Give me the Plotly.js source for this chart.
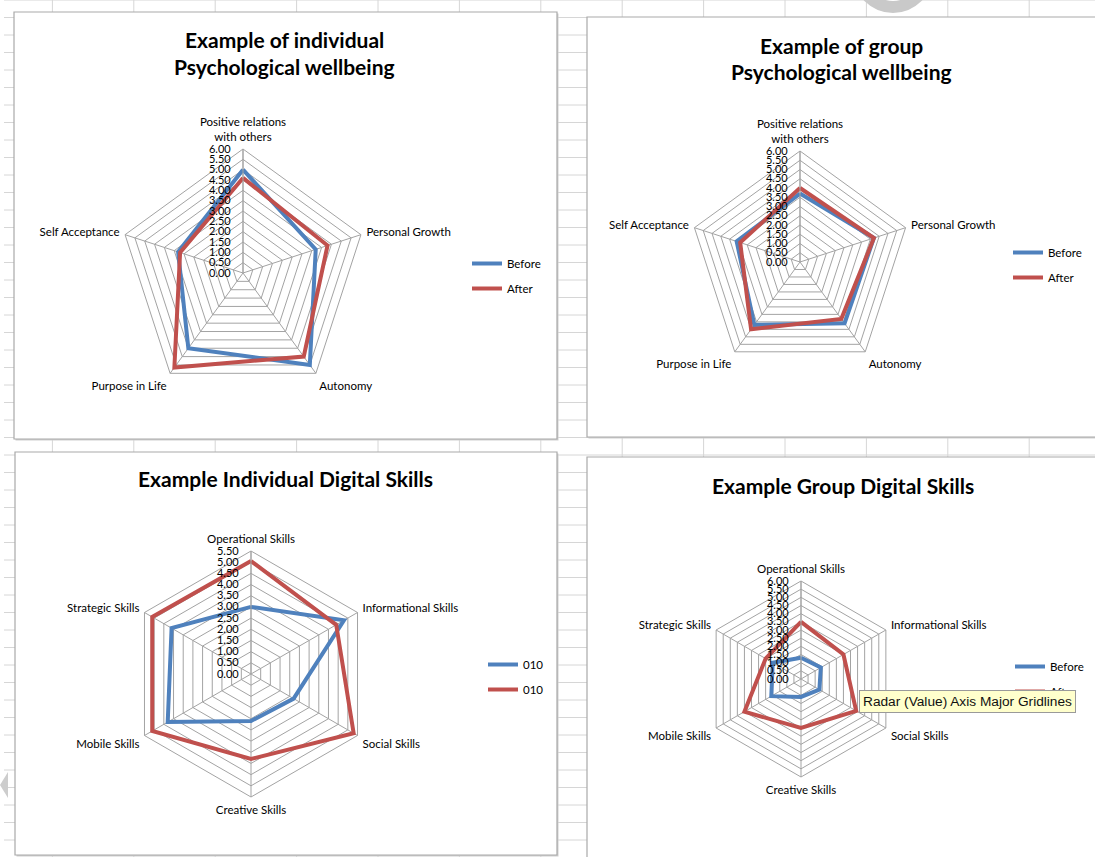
<!DOCTYPE html>
<html>
<head>
<meta charset="utf-8">
<script src="https://cdn.plot.ly/plotly-3.0.1.min.js"></script>
<style>
  html, body { margin: 0; padding: 0; background: #ffffff; }
  #chart { width: 1095px; height: 857px; }
</style>
</head>
<body>
<div id="chart"></div>
<script>
// ---- data ----
const psyCategories = ['Positive relations<br>with others', 'Personal Growth', 'Autonomy', 'Purpose in Life', 'Self Acceptance'];
const digitalCategories = ['Operational Skills', 'Informational Skills', 'Social Skills', 'Creative Skills', 'Mobile Skills', 'Strategic Skills'];

const indivPsyNames = ['Before', 'After'];
const indivPsyBefore = [5.0, 3.7, 5.5, 4.5, 3.3];
const indivPsyAfter  = [4.6, 4.3, 5.0, 5.65, 3.2];

const groupPsyNames = ['Before', 'After'];
const groupPsyBefore = [3.7, 4.2, 4.1, 4.2, 3.6];
const groupPsyAfter  = [4.0, 4.2, 3.8, 4.5, 3.4];

const indivDigNames = ['010', '010'];
const indivDigBefore = [3.0, 4.8, 2.2, 2.1, 4.3, 4.1];
const indivDigAfter  = [5.05, 4.4, 5.3, 3.8, 5.1, 5.1];

const groupDigNames = ['Before', 'After'];
const groupDigBefore = [1.3, 1.4, 1.3, 1.1, 2.1, 2.0];
const groupDigAfter  = [3.5, 3.0, 3.9, 3.0, 4.0, 2.5];

const indivPsyTitle = ['Example of individual', 'Psychological wellbeing'];
const groupPsyTitle = ['Example of group', 'Psychological wellbeing'];
const indivDigTitle = ['Example Individual Digital Skills'];
const groupDigTitle = ['Example Group Digital Skills'];

const tooltipText = 'Radar (Value) Axis Major Gridlines';

// ---- page geometry (pixels) ----
const W = 1095, H = 857;
const px = x => x / W;
const py = y => 1 - y / H;

const BLUE = '#4F81BD';
const RED = '#C0504D';
const GRID = '#a3a3a3';
const FONT = 'Lato, "Open Sans", sans-serif';

const panels = [
  { polar: 'polar',  legend: 'legend',  cats: psyCategories,     names: indivPsyNames, before: indivPsyBefore, after: indivPsyAfter, max: 6,
    cx: 243, cy: 273, r: 124, legX: 467, legY: 249, title: indivPsyTitle, tx: 284, ty: 40,
    box: [14, 12, 557, 439] },
  { polar: 'polar2', legend: 'legend2', cats: psyCategories,     names: groupPsyNames, before: groupPsyBefore, after: groupPsyAfter, max: 6,
    cx: 800, cy: 262, r: 111, legX: 1008, legY: 238, title: groupPsyTitle, tx: 841, ty: 46,
    box: [587, 17, 1100, 437] },
  { polar: 'polar3', legend: 'legend3', cats: digitalCategories, names: indivDigNames, before: indivDigBefore, after: indivDigAfter, max: 5.5,
    cx: 251, cy: 674, r: 123, legX: 483, legY: 650, title: indivDigTitle, tx: 285, ty: 479,
    box: [15, 452, 557, 855] },
  { polar: 'polar4', legend: 'legend4', cats: digitalCategories, names: groupDigNames, before: groupDigBefore, after: groupDigAfter, max: 6,
    cx: 801, cy: 679, r: 98, legX: 1010, legY: 652, title: groupDigTitle, tx: 843, ty: 485,
    box: [587, 457, 1100, 862] }
];

const closeLoop = arr => arr.concat([arr[0]]);

const traces = [];
const layout = {
  width: W, height: H,
  margin: { l: 0, r: 0, t: 0, b: 0 },
  paper_bgcolor: '#ffffff',
  showlegend: true,
  font: { family: FONT, color: '#000000' },
  shapes: [],
  annotations: []
};

// spreadsheet cell grid behind the chart boxes
for (let y = 0; y <= H; y += 17.5) {
  layout.shapes.push({ type: 'line', xref: 'paper', yref: 'paper', x0: px(4), x1: 1, y0: py(y), y1: py(y),
    line: { color: '#d6d6d6', width: 1 }, layer: 'below' });
}
for (let x = 52.4; x <= W; x += 81.4) {
  layout.shapes.push({ type: 'line', xref: 'paper', yref: 'paper', x0: px(x), x1: px(x), y0: 0, y1: 1,
    line: { color: '#d6d6d6', width: 1 }, layer: 'below' });
}

panels.forEach(p => {
  const [bx0, by0, bx1, by1] = p.box;
  // chart area frame
  layout.shapes.push({ type: 'rect', xref: 'paper', yref: 'paper', x0: px(bx0 + 1.5), x1: px(bx1 + 1.5), y0: py(by1 + 1.5), y1: py(by0 + 1.5),
    fillcolor: '#cfcfcf', line: { width: 0 }, layer: 'below' });
  layout.shapes.push({ type: 'rect', xref: 'paper', yref: 'paper', x0: px(bx0), x1: px(bx1), y0: py(by1), y1: py(by0),
    fillcolor: '#ffffff', line: { color: '#a9a9a9', width: 1.2 }, layer: 'below' });

  const series = [[p.before, BLUE], [p.after, RED]];
  series.forEach(([vals, color], i) => {
    traces.push({
      type: 'scatterpolar', subplot: p.polar, legend: p.legend,
      name: p.names[i], legendgroup: p.polar + '-' + i,
      r: closeLoop(vals), theta: closeLoop(p.cats),
      mode: 'lines', line: { color: color, width: 4 },
      hoverinfo: 'skip'
    });
  });

  layout[p.polar] = {
    domain: { x: [px(p.cx - p.r), px(p.cx + p.r)], y: [py(p.cy + p.r), py(p.cy - p.r)] },
    gridshape: 'linear',
    bgcolor: 'rgba(0,0,0,0)',
    radialaxis: {
      range: [0, p.max], tick0: 0, dtick: 0.5, tickformat: '.2f',
      angle: 90, side: 'counterclockwise', tickangle: 90,
      showline: true, linecolor: GRID, linewidth: 1,
      gridcolor: GRID, gridwidth: 1,
      ticks: 'outside', ticklen: 8, tickcolor: 'rgba(0,0,0,0)',
      tickfont: { family: FONT, size: 11, color: '#000000' }
    },
    angularaxis: {
      type: 'category', direction: 'clockwise', rotation: 90,
      showline: true, linecolor: GRID, linewidth: 1,
      gridcolor: GRID, gridwidth: 1,
      ticks: 'outside', ticklen: 3, tickcolor: 'rgba(0,0,0,0)',
      tickfont: { family: FONT, size: 11.5, color: '#000000' }
    }
  };

  layout[p.legend] = {
    x: px(p.legX), y: py(p.legY), xanchor: 'left', yanchor: 'top',
    bgcolor: 'rgba(0,0,0,0)', borderwidth: 0,
    traceorder: 'grouped', tracegroupgap: 6,
    font: { family: FONT, size: 11.5, color: '#000000' }
  };

  p.title.forEach((line, k) => {
    layout.annotations.push({
      xref: 'paper', yref: 'paper', x: px(p.tx), y: py(p.ty + k * 26),
      xanchor: 'center', yanchor: 'middle', showarrow: false,
      text: '<b>' + line + '</b>',
      font: { family: FONT, size: 21, color: '#000000' }
    });
  });
});

// window chrome at the top and left edges
layout.shapes.push({ type: 'circle', xref: 'paper', yref: 'paper', x0: px(853), x1: px(933), y0: py(13), y1: py(-67),
  fillcolor: '#c9c9c9', line: { width: 0 }, layer: 'above' });
layout.shapes.push({ type: 'circle', xref: 'paper', yref: 'paper', x0: px(866), x1: px(920), y0: py(1), y1: py(-53),
  fillcolor: '#ffffff', line: { width: 0 }, layer: 'above' });
layout.shapes.push({ type: 'path', xref: 'paper', yref: 'paper',
  path: `M ${px(8)} ${py(772)} L ${px(0)} ${py(785)} L ${px(8)} ${py(798)} Z`,
  fillcolor: '#cdcdcd', line: { width: 0 }, layer: 'above' });

// hover tip over the group digital skills chart
layout.annotations.push({
  xref: 'paper', yref: 'paper', x: px(859), y: py(690), xanchor: 'left', yanchor: 'top',
  showarrow: false, text: tooltipText,
  bgcolor: '#ffffcc', bordercolor: '#9a9a9a', borderwidth: 1, borderpad: 3,
  font: { family: '"Liberation Sans", Arial, sans-serif', size: 13.7, color: '#111111' }
});

Plotly.newPlot('chart', traces, layout, { displayModeBar: false, staticPlot: true });
</script>
</body>
</html>
